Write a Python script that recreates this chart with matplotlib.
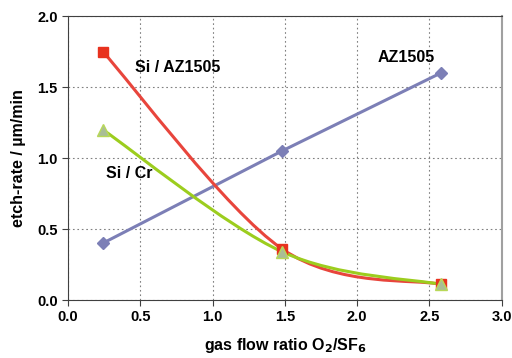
import numpy as np
import matplotlib.pyplot as plt
from matplotlib.path import Path
from matplotlib.patches import PathPatch

plt.rcParams['font.family'] = ['Liberation Sans', 'DejaVu Sans']
plt.rcParams['font.weight'] = 'bold'

ratio = [0.24, 1.48, 2.58]
az1505 = [0.40, 1.05, 1.60]
si_az = [1.75, 0.36, 0.11]
si_cr = [1.20, 0.34, 0.11]


def smooth_path(xs, ys):
    # Excel-style smoothed line: cubic Bezier through the points
    p = np.column_stack([xs, ys])
    n = len(p)
    verts = [p[0]]
    codes = [Path.MOVETO]
    for i in range(n - 1):
        p0 = p[i - 1] if i > 0 else p[i]
        p3 = p[i + 2] if i + 2 < n else p[i + 1]
        c1 = p[i] + (p[i + 1] - p0) / 6
        c2 = p[i + 1] - (p3 - p[i]) / 6
        verts += [c1, c2, p[i + 1]]
        codes += [Path.CURVE4] * 3
    return Path(verts, codes)


fig = plt.figure(figsize=(5.12, 3.58), dpi=100)
ax = fig.add_axes([0.133, 0.162, 0.847, 0.793])

ax.plot(ratio, az1505, color='#7c7fb6', lw=2.2, marker='D', ms=6,
        zorder=3)

red = '#e8453c'
green = '#9ccd1e'
ax.add_patch(PathPatch(smooth_path(ratio, si_az), fc='none', ec=red,
                       lw=2.2, zorder=3))
ax.add_patch(PathPatch(smooth_path(ratio, si_cr), fc='none', ec=green,
                       lw=2.2, zorder=4))
ax.plot(ratio, si_az, ls='none', marker='s', ms=7, mfc='#e8321e',
        mec='#e8321e', zorder=5)
ax.plot(ratio, si_cr, ls='none', marker='^', ms=8, mfc='#a9be96',
        mec='#b8d858', mew=1, zorder=6)

ax.text(0.46, 1.635, 'Si / AZ1505', fontsize=11.5, fontweight='bold',
        va='center')
ax.text(0.26, 0.89, 'Si / Cr', fontsize=11.5, fontweight='bold',
        va='center')
ax.text(2.14, 1.71, 'AZ1505', fontsize=11.5, fontweight='bold',
        va='center')

ax.set_xlim(0, 3)
ax.set_ylim(0, 2)
ax.set_xticks(np.arange(0, 3.01, 0.5))
ax.set_yticks(np.arange(0, 2.01, 0.5))
ax.xaxis.set_major_formatter(plt.FormatStrFormatter('%.1f'))
ax.yaxis.set_major_formatter(plt.FormatStrFormatter('%.1f'))
ax.grid(True, color='#808080', ls=(0, (1.5, 2.5)), lw=0.8)
ax.set_axisbelow(True)
ax.tick_params(labelsize=10.5, length=4, direction='out', color='#404040')
for lab in ax.get_xticklabels() + ax.get_yticklabels():
    lab.set_fontweight('bold')
for s in ['left', 'bottom', 'top']:
    ax.spines[s].set_color('#404040')
ax.spines['right'].set_color('#a0a0a0')
ax.spines['right'].set_linewidth(1.5)

ax.set_xlabel('gas flow ratio O$_\\mathbf{2}$/SF$_\\mathbf{6}$',
              fontsize=11.5, fontweight='bold', labelpad=8)
ax.set_ylabel('etch-rate / µm/min', fontsize=11.5, fontweight='bold',
              labelpad=8)

fig.savefig('out.png', dpi=100)
